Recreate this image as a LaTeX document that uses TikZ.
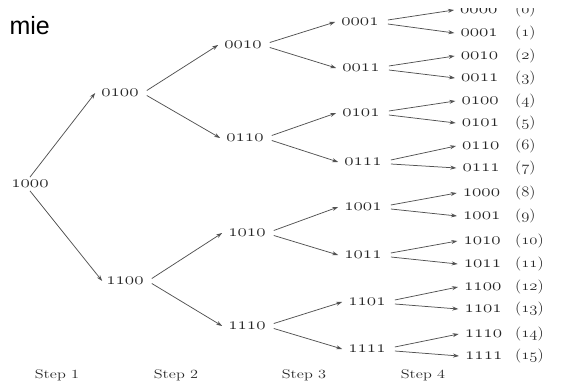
\documentclass[tikz,border=0pt]{standalone}
\usepackage{graphicx}
\usepackage{fontspec}
\newfontfamily\miefont{Liberation Sans}
\usetikzlibrary{arrows.meta}
\newcommand\bn[1]{\scalebox{1.1}[1]{\fontsize{16.5}{19}\selectfont$\mathnormal{#1}$}}
\newcommand\ix[1]{\scalebox{1.15}[1]{\fontsize{14}{17}\selectfont($\mathnormal{#1}$)}}
\newcommand\stp[1]{\scalebox{1.3}[1]{\fontsize{12.5}{15}\selectfont Step #1}}
\tikzset{
  code/.style={inner sep=0pt, text=black!85},
  arr/.style={draw=black!68, line width=0.75pt, -{Stealth[length=6pt,width=4pt]}},
}
\begin{document}
\begin{tikzpicture}[x=1pt,y=-1pt]
\useasboundingbox (0,0) rectangle (563,382);
\clip (0,0) rectangle (563,382);
\node[anchor=base east, inner sep=0pt, font=\miefont\fontsize{25}{30}\selectfont] (mie) at (50,35) {mie};
% root
\node[code] (r) at (30,184) {\bn{1000}};
% level 1
\node[code] (a0) at (120,93) {\bn{0100}};
\node[code] (a1) at (125,281) {\bn{1100}};
% level 2
\node[code] (b0) at (243,45) {\bn{0010}};
\node[code] (b1) at (245,138) {\bn{0110}};
\node[code] (b2) at (247,233) {\bn{1010}};
\node[code] (b3) at (247,326) {\bn{1110}};
% level 3
\node[code] (c0) at (360,22) {\bn{0001}};
\node[code] (c1) at (361,68) {\bn{0011}};
\node[code] (c2) at (361,113) {\bn{0101}};
\node[code] (c3) at (363,162) {\bn{0111}};
\node[code] (c4) at (363,207) {\bn{1001}};
\node[code] (c5) at (363,255) {\bn{1011}};
\node[code] (c6) at (367,302) {\bn{1101}};
\node[code] (c7) at (367,349) {\bn{1111}};
% leaves
\foreach \i/\y/\t in {0/10/0000,1/33/0001,2/56/0010,3/78/0011,4/101/0100,5/123/0101,6/146/0110,7/168/0111,8/193/1000,9/216/1001,10/241/1010,11/264/1011,12/287/1100,13/309/1101,14/334/1110,15/356/1111}{
  \node[code, anchor=west] (l\i) at ({460+\i/3},\y) {\bn{\t}};
  \node[code, anchor=west] (n\i) at (515,\y) {\ix{\i}};
}
% steps
\node[code] (s1) at (57,375) {\stp{1}};
\node[code] (s2) at (176,375) {\stp{2}};
\node[code] (s3) at (304,375) {\stp{3}};
\node[code] (s4) at (423,375) {\stp{4}};
% edges
\draw[arr] ([yshift=3pt]r.north) -- ([xshift=-6pt]a0.west);
\draw[arr] ([yshift=-3pt]r.south) -- ([xshift=-4pt]a1.west);
\foreach \p/\u/\d in {a0/b0/b1,a1/b2/b3,b0/c0/c1,b1/c2/c3,b2/c4/c5,b3/c6/c7}{
  \draw[arr] ([xshift=8pt,yshift=2.5pt]\p.east) -- ([xshift=-6pt]\u.west);
  \draw[arr] ([xshift=8pt,yshift=-2.5pt]\p.east) -- ([xshift=-6pt]\d.west);
}
\foreach \p/\u/\d in {c0/l0/l1,c1/l2/l3,c2/l4/l5,c3/l6/l7,c4/l8/l9,c5/l10/l11,c6/l12/l13,c7/l14/l15}{
  \draw[arr] ([xshift=9pt,yshift=2pt]\p.east) -- ([xshift=-6pt]\u.west);
  \draw[arr] ([xshift=9pt,yshift=-2pt]\p.east) -- ([xshift=-6pt]\d.west);
}
% top edge of the scan cuts the first leaf
\fill[white] (380,0) rectangle (563,8);
\end{tikzpicture}
\end{document}
